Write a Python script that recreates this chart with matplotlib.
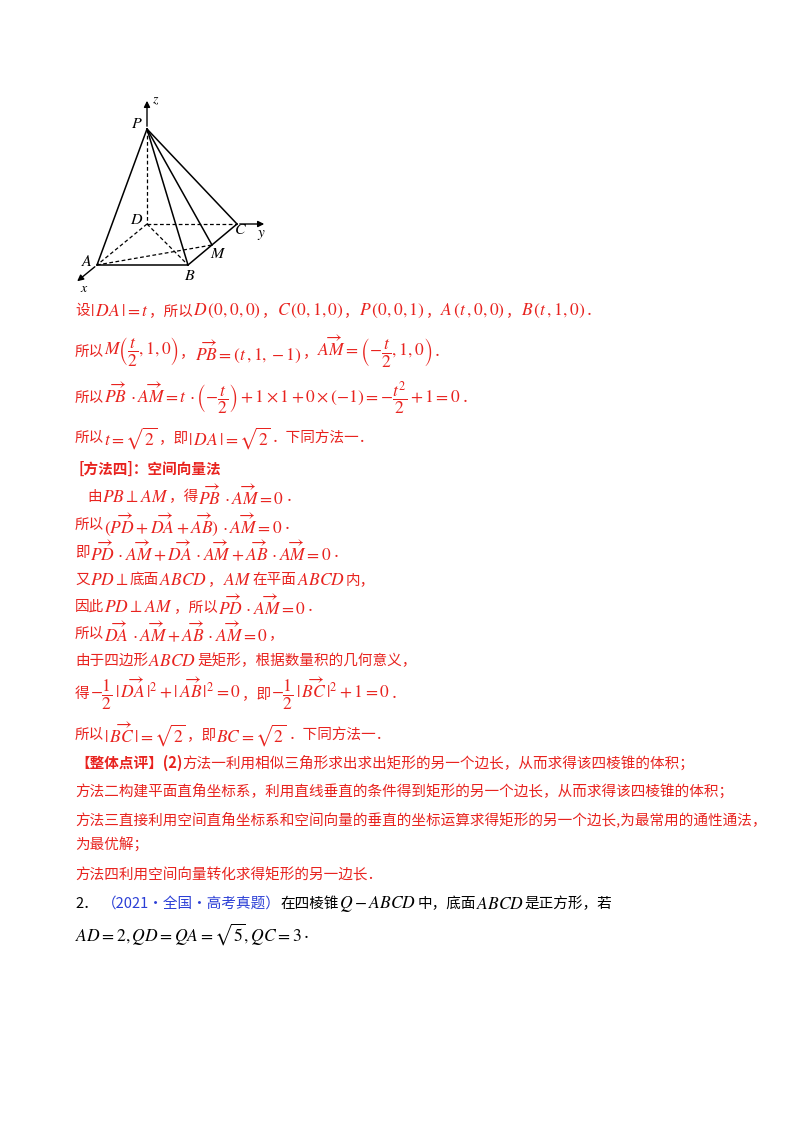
import matplotlib
matplotlib.use("Agg")
import matplotlib.pyplot as plt

plt.rcParams['font.family'] = ['Noto Sans CJK SC', 'DejaVu Sans']
plt.rcParams['mathtext.fontset'] = 'stix'

RED = '#e8231f'
BLUE = '#2b3fd6'

# pyramid figure, page pixel coordinates
pts = {'P': (147, 129), 'D': (147, 224), 'C': (237, 224), 'A': (97, 265),
       'B': (188, 265), 'M': (212, 245)}
solid_edges = [('P', 'A'), ('P', 'B'), ('P', 'C'), ('P', 'M'), ('A', 'B'), ('B', 'C')]
dashed_edges = [('P', 'D'), ('D', 'A'), ('D', 'C'), ('D', 'B'), ('A', 'M')]
label_off = {'P': (-10, -6), 'D': (-10, -4), 'C': (4, 6), 'A': (-10, -4),
             'B': (2, 10), 'M': (6, 9)}

# text lines: (x, y, content with $math$, colour, bold)
lines = [
    (75, 311, r"设$|\,DA\,|=t$，所以$D\,(0,0,0)$，$C\,(0,1,0)$，$P\,(0,0,1)$，$A\,(t\,,0,0)$，$B\,(t\,,1,0)$．", RED, False),
    (75, 352, r"所以$M\left(\dfrac{t}{2},1,0\right)$，$\overrightarrow{PB}=(t\,,1,-1)$，$\overrightarrow{AM}=\left(-\dfrac{t}{2},1,0\right)$．", RED, False),
    (75, 398, r"所以$\overrightarrow{PB}\,\cdot\overrightarrow{AM}=t\,\cdot\left(-\dfrac{t}{2}\right)+1\times1+0\times(-1)=-\dfrac{t^2}{2}+1=0$．", RED, False),
    (75, 438, r"所以$t=\sqrt{2}$，即$|\,DA\,|=\sqrt{2}$．下同方法一．", RED, False),
    (78, 469, r"[方法四]：空间向量法", RED, True),
    (87, 497, r"由$PB\perp AM$，得$\overrightarrow{PB}\,\cdot\overrightarrow{AM}=0$．", RED, False),
    (75, 525, r"所以$(\overrightarrow{PD}+\overrightarrow{DA}+\overrightarrow{AB})\,\cdot\overrightarrow{AM}=0$．", RED, False),
    (75, 553, r"即$\overrightarrow{PD}\,\cdot\overrightarrow{AM}+\overrightarrow{DA}\,\cdot\overrightarrow{AM}+\overrightarrow{AB}\,\cdot\overrightarrow{AM}=0$．", RED, False),
    (75, 580, r"又$PD\perp$底面$ABCD$，$AM$在平面$ABCD$内，", RED, False),
    (75, 607, r"因此$PD\perp AM$，所以$\overrightarrow{PD}\,\cdot\overrightarrow{AM}=0$．", RED, False),
    (75, 634, r"所以$\overrightarrow{DA}\,\cdot\overrightarrow{AM}+\overrightarrow{AB}\,\cdot\overrightarrow{AM}=0$，", RED, False),
    (75, 661, r"由于四边形$ABCD$是矩形，根据数量积的几何意义，", RED, False),
    (75, 694, r"得$-\dfrac{1}{2}\,|\,\overrightarrow{DA}\,|^2+|\,\overrightarrow{AB}\,|^2=0$，即$-\dfrac{1}{2}\,|\,\overrightarrow{BC}\,|^2+1=0$．", RED, False),
    (75, 735, r"所以$|\,\overrightarrow{BC}\,|=\sqrt{2}$，即$BC=\sqrt{2}$．下同方法一．", RED, False),
    (75, 791, r"方法二构建平面直角坐标系，利用直线垂直的条件得到矩形的另一个边长，从而求得该四棱锥的体积；", RED, False),
    (75, 819, r"方法三直接利用空间直角坐标系和空间向量的垂直的坐标运算求得矩形的另一个边长,为最常用的通性通法，", RED, False),
    (75, 845, r"为最优解；", RED, False),
    (75, 875, r"方法四利用空间向量转化求得矩形的另一边长．", RED, False),
    (75, 934, r"$AD=2,QD=QA=\sqrt{5},QC=3$．", 'black', False),
]

fig = plt.figure(figsize=(8, 11.32), dpi=100)
ax = fig.add_axes([0, 0, 1, 1])
ax.set_xlim(0, 800)
ax.set_ylim(1132, 0)
ax.axis('off')
renderer = fig.canvas.get_renderer()

# pyramid
for a, b in solid_edges:
    ax.plot([pts[a][0], pts[b][0]], [pts[a][1], pts[b][1]], color='black', lw=1.1)
for a, b in dashed_edges:
    ax.plot([pts[a][0], pts[b][0]], [pts[a][1], pts[b][1]], color='black', lw=0.9, ls=(0, (3, 2)))
arr = dict(arrowstyle='-|>', color='black', lw=1.0, mutation_scale=9)
ax.annotate('', xy=(147, 98), xytext=pts['P'], arrowprops=arr)
ax.annotate('', xy=(267, 224), xytext=pts['C'], arrowprops=arr)
ax.annotate('', xy=(75, 283), xytext=pts['A'], arrowprops=arr)
for k, (dx, dy) in label_off.items():
    ax.text(pts[k][0] + dx, pts[k][1] + dy, '$' + k + '$', fontsize=11.5, ha='center', va='center')
ax.text(156, 100, '$z$', fontsize=10, ha='center', va='center')
ax.text(261, 233, '$y$', fontsize=11, ha='center', va='center')
ax.text(84, 288, '$x$', fontsize=10, ha='center', va='center')


def draw_line(x, y, content, color, bold=False, size=10.5):
    parts = content.split('$')
    for i, p in enumerate(parts):
        if not p:
            continue
        s = '$' + p + '$' if i % 2 else p
        t = ax.text(x, y, s, color=color, fontsize=size * 1.2 if i % 2 else size,
                    va='center', ha='left', fontweight='bold' if bold else 'normal')
        w = t.get_window_extent(renderer).width
        x += w + (1 if i % 2 else 0)
    return x


for x, y, c, col, b in lines:
    draw_line(x, y, c, col, b)

x = draw_line(75, 763, "【整体点评】(2)", RED, True)
draw_line(x, 763, "方法一利用相似三角形求出求出矩形的另一个边长，从而求得该四棱锥的体积；", RED)

x = draw_line(75, 904, "2．", 'black')
x = draw_line(x + 4, 904, "（2021·全国·高考真题）", BLUE)
draw_line(x, 904, r"在四棱锥$Q-ABCD$中，底面$ABCD$是正方形，若", 'black')

fig.savefig('out.png', dpi=100, facecolor='white')
